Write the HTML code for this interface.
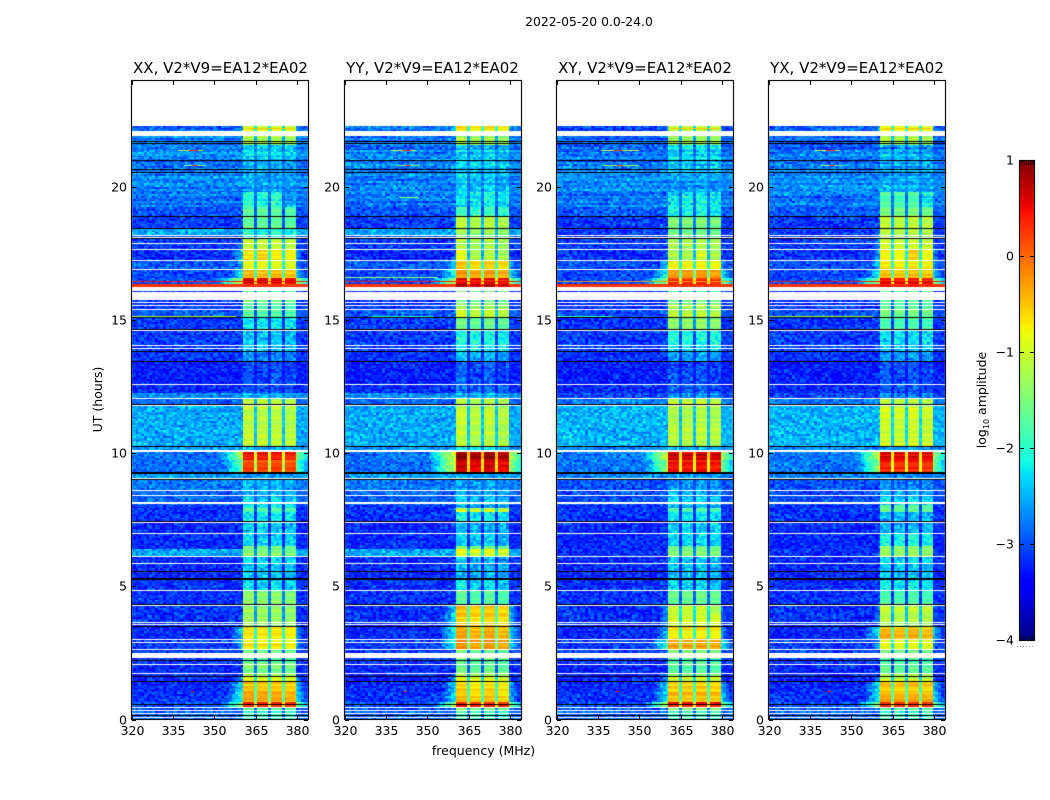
<!DOCTYPE html>
<html>
<head>
<meta charset="utf-8">
<title>2022-05-20 0.0-24.0</title>
<style>
html,body{margin:0;padding:0;background:#fff;}
#figure{position:relative;width:1050px;height:800px;overflow:hidden;background:#fff;font-family:"DejaVu Sans","Liberation Sans",sans-serif;}
canvas{position:absolute;display:block;}
#overlay{position:absolute;left:0;top:0;}
#overlay text{font-family:"DejaVu Sans","Liberation Sans",sans-serif;fill:#000;}
</style>
</head>
<body>
<div id="figure">
  <canvas id="hm0" width="178" height="640" style="left:131px;top:80px"></canvas>
  <canvas id="hm1" width="178" height="640" style="left:344px;top:80px"></canvas>
  <canvas id="hm2" width="178" height="640" style="left:556px;top:80px"></canvas>
  <canvas id="hm3" width="178" height="640" style="left:768px;top:80px"></canvas>
  <canvas id="cbar" width="16" height="481" style="left:1019px;top:160px"></canvas>
  <svg id="overlay" width="1050" height="800" xmlns="http://www.w3.org/2000/svg">
    <text x="589" y="26" font-size="12.4" text-anchor="middle">2022-05-20 0.0-24.0</text>
    <text x="220.5" y="73" font-size="15" text-anchor="middle">XX, V2*V9=EA12*EA02</text>
    <text x="432.5" y="73" font-size="15" text-anchor="middle">YY, V2*V9=EA12*EA02</text>
    <text x="645" y="73" font-size="15" text-anchor="middle">XY, V2*V9=EA12*EA02</text>
    <text x="857" y="73" font-size="15" text-anchor="middle">YX, V2*V9=EA12*EA02</text>
    <text x="483.5" y="755" font-size="12.5" text-anchor="middle">frequency (MHz)</text>
    <text transform="translate(102,399.5) rotate(-90)" font-size="12.5" text-anchor="middle">UT (hours)</text>
    <text transform="translate(986,400) rotate(-90)" font-size="12.5" text-anchor="middle">log<tspan font-size="8" dy="3">10</tspan><tspan dy="-3"> amplitude</tspan></text>
    <line x1="1017" y1="646.5" x2="1035" y2="646.5" stroke="#999" stroke-width="1" stroke-dasharray="1 2"></line>
    <rect x="1019.5" y="160.5" width="15" height="480" fill="none" stroke="#111" stroke-width="1.2"></rect>
    <g id="axes-layer"></g>
  </svg>
</div>
<script>
// ---- axis data ----
var freqTicks = [320, 335, 350, 365, 380];
var freqTickLabels = ["320", "335", "350", "365", "380"];
var hourTicks = [0, 5, 10, 15, 20];
var hourTickLabels = ["0", "5", "10", "15", "20"];
var colorbarTicks = [1, 0, -1, -2, -3, -4];
var colorbarTickLabels = ["1", "0", "\u22121", "\u22122", "\u22123", "\u22124"];

// ---- time segments (start hour, running down from the top of the data) ----
var segmentStart = [22.270,21.895,21.557,21.370,20.994,20.919,20.544,19.793,19.231,18.855,
  18.443,18.180,18.030,17.617,17.242,16.867,16.567,16.454,16.341,16.229,
  16.079,15.741,15.591,15.366,15.066,14.578,14.053,13.827,13.415,12.552,
  12.252,12.064,11.763,10.225,10.037,9.737,9.287,9.212,8.974,8.574,
  8.349,8.049,7.936,7.786,7.373,6.961,6.510,6.398,6.098,5.835,
  5.272,4.822,4.259,3.997,3.471,2.983,2.645,2.270,2.157,2.046,
  1.707,1.595,1.407,1.032,0.658,0.432,0.320];

// log10 amplitude outside the 360-380 MHz band
var offParallel = [-2.9,-2.75,-2.85,-2.7,-3,-2.75,-2.75,-2.8,-3,-3.1,
  -2.55,-3,-3.1,-3.2,-2.95,-3.05,-3,-3,0.3,-3.2,
  -3.2,-3.2,-3.1,-2.95,-3.1,-3.1,-3.1,-3.15,-3.25,-3.2,
  -2.7,-2.9,-2.55,-2.65,-2.85,-2.85,-2.85,-2.6,-2.8,-2.9,
  -2.9,-3.15,-3.15,-3.15,-3.2,-3.2,-3.2,-2.55,-3.2,-3.2,
  -3.15,-3.15,-3.15,-3.15,-3.2,-3.1,-3.1,-3.1,-3.15,-3.2,
  -3.2,-3.2,-3.2,-3.15,-3,-3,-2.9];
var offCross = [-3,-2.9,-2.95,-2.8,-3,-2.75,-2.7,-2.8,-2.95,-3.1,
  -3.1,-3.1,-3.1,-3.15,-3,-3.05,-3,-3,0.3,-3.2,
  -3.2,-3.2,-3.1,-3,-3.15,-3.1,-3.1,-3.15,-3.25,-3.2,
  -3.05,-2.75,-2.5,-2.7,-2.8,-2.8,-2.8,-2.75,-3,-3,
  -3,-3.15,-3.15,-3.15,-3.2,-3.2,-3.2,-3.15,-3.2,-3.2,
  -3.15,-3.15,-3.15,-3.15,-3.2,-3.1,-3.1,-3.1,-3.15,-3.2,
  -3.2,-3.2,-3.2,-3.15,-3,-3,-2.9];

// log10 amplitude inside the band, one series per correlation
var inBandXX = [-0.9,-1.2,-2.4,-2.35,-2.5,-2.5,-2.6,-2,-1.75,-1.65,
  -2.05,-1.9,-1.1,-0.7,-0.8,-0.5,0.55,0.6,0.3,-1.5,
  -1.6,-1.6,-1.8,-1.7,-2.2,-2.4,-2.4,-2.7,-3,-3,
  -2.5,-1.2,-1.1,-2.4,0.45,0.15,0,-2.6,-2.5,-2.5,
  -2.3,-2.15,-1.7,-2.2,-2.4,-2.3,-1.6,-1.4,-2.3,-2.4,
  -2.3,-1.45,-1.3,-1.3,-0.7,-0.7,-1.6,-1.9,-1.5,-1.5,
  -1.2,-0.8,-0.5,-0.35,0.35,-1.6,-1.9];
var inBandYY = [-0.75,-1.2,-2.4,-2.35,-2.5,-2.4,-2.4,-2.15,-1.9,-1.15,
  -1.35,-1.5,-1.2,-1.2,-0.6,-0.3,0.5,0.5,0.75,-1.5,
  -1.6,-1.6,-1.2,-1.05,-1.6,-2.1,-2.2,-2.5,-2.95,-2.85,
  -2.45,-1.1,-1.1,-2.3,0.85,0.65,0,-2.5,-2.6,-2.5,
  -2.3,-2.6,-1,-2.2,-2.5,-2.4,-1.5,-0.9,-2.5,-2.5,
  -2.25,-1.7,-0.6,-0.55,-0.35,-0.3,-1.5,-1.7,-1.5,-1.6,
  -1.3,-0.9,-0.6,-0.5,0.35,-1.5,-1.9];
var inBandXY = [-1,-1.3,-2.3,-2.25,-2.5,-2.4,-2.6,-2.15,-2.1,-1.45,
  -1.55,-1.6,-1.2,-1.2,-0.75,-0.3,0.35,0.4,0.3,-1.5,
  -1.6,-1.6,-1.2,-1.1,-1.35,-2.1,-2.3,-2.6,-3,-2.9,
  -2.6,-1.1,-1.15,-2.5,0.7,0.4,0,-2.6,-2.6,-2.5,
  -2.3,-2.5,-1.8,-2.3,-2.4,-2.3,-1.5,-1.45,-2.4,-2.4,
  -2.35,-1.6,-0.95,-1,-0.7,-0.25,-1.5,-1.9,-1.7,-1.7,
  -1.3,-1,-0.6,-0.45,0.4,-1.5,-1.9];
var inBandYX = [-0.85,-1.2,-2.6,-2.5,-2.6,-2.5,-2.55,-1.8,-1.5,-1.15,
  -1.1,-1.3,-1,-0.85,-0.7,-0.45,0.4,0.45,0.4,-1.5,
  -1.6,-1.6,-1.7,-1.6,-1.8,-2.3,-2.4,-2.6,-3,-2.95,
  -2.7,-1.1,-1,-2.6,0.6,0.35,0,-2.7,-2.7,-2.5,
  -2.3,-1.8,-1.6,-2.5,-2.5,-2.1,-1.4,-1.3,-2.3,-2.4,
  -2.2,-1.8,-1.1,-1.15,-0.45,-0.9,-1.5,-1.9,-1.7,-1.7,
  -1.3,-1,-0.5,-0.4,0.3,-1.5,-1.9];
var inBandLevels = [inBandXX, inBandYY, inBandXY, inBandYX];

// sub-band layout (channel centres in MHz) and per-panel sub-band offsets
var subBandFirst = [361, 366, 371, 376];
var subBandLast = [364, 369, 374, 379];
var subBandGainXX = [0.03, 0, 0, -0.06];
var subBandGainYY = [0.06, -0.05, 0.03, -0.08];
var subBandGainXY = [0, 0, 0.02, -0.03];
var subBandGainYX = [0.03, -0.02, 0.02, -0.04];
var subBandGains = [subBandGainXX, subBandGainYY, subBandGainXY, subBandGainYX];

// individual sub-bands that differ from the rest of their segment
var exceptionPanel = [0, 3, 2, 1, 2, 0, 1, 2, 3];
var exceptionSegment = [7, 7, 7, 7, 52, 13, 13, 13, 13];
var exceptionSubBand = [3, 3, 0, 0, 3, 1, 0, 2, 2];
var exceptionLevel = [-2.6, -2.2, -2.3, -2.3, -1.2, -0.55, -0.9, -0.95, -0.6];

// flagged time ranges (from hour, to hour)
var blankFrom = [22.082,18.180,18.105,17.880,17.655,17.242,16.904,16.229,16.041,15.666,
  15.553,15.403,14.615,14.053,13.940,12.589,12.064,11.801,10.112,9.062,
  8.611,8.424,8.161,7.411,6.998,6.135,5.872,4.859,4.297,3.658,
  3.583,3.020,2.908,2.645,2.495,2.083,1.745,0.470,0.358,0.244,0.094];
var blankTo = [21.895,18.143,18.068,17.842,17.617,17.205,16.867,16.079,15.741,15.629,
  15.516,15.366,14.578,14.015,13.902,12.552,12.026,11.763,10.037,9.024,
  8.574,8.387,8.086,7.373,6.961,6.098,5.835,4.822,4.259,3.620,
  3.546,2.983,2.871,2.608,2.308,2.046,1.707,0.432,0.320,0.207,0.056];
var darkFrom = [21.707,21.632,20.994,20.657,20.544,18.893,18.443,18.068,15.103,14.653,
  13.827,13.452,11.838,10.263,9.287,9.009,7.449,5.572,5.309,4.334,
  3.508,2.233,1.632,1.444,0.582,0.170];
var darkTo = [21.670,21.595,20.957,20.619,20.506,18.855,18.405,18.030,15.066,14.615,
  13.790,13.415,11.801,10.225,9.212,8.974,7.411,5.535,5.234,4.297,
  3.471,2.195,1.595,1.407,0.545,0.131];

// narrow-band interference streaks
var streakPanel = [0,1,2,3,0,1,2,3,0,1,2,3,0,1,2,3,0,1,2,3,1,0,1,2,3,0,2,3,1,0,1,2,3];
var streakHour = [21.37,21.37,21.37,21.37,21.37,21.37,21.37,21.37,20.825,20.825,20.825,20.825,20.825,20.825,20.825,20.825,15.14,15.14,15.14,15.14,16.60,16.454,16.454,16.454,16.454,22.19,22.19,22.19,19.60,1.08,1.08,1.08,1.08];
var streakFrom = [337,337,336,337,341,341,341,341,339,339,337,339,342,342,342,342,320,330,320,320,320,320,320,320,320,362,362,362,340,341.5,341.5,341.5,341.5];
var streakTo = [346,346,350,346,344,344,344,344,347,347,350,347,344,344,344,344,358,352,340,358,354,384,384,384,384,379,379,379,347,342.5,342.5,342.5,342.5];
var streakLevel = [-1.2,-1.2,-1.1,-1.2,0.3,0.3,0.3,0.3,-1.5,-1.5,-1.3,-1.6,0.2,0.2,0.2,0.2,-1.2,-2,-1.9,-1.3,-1.3,0.45,0.45,-0.2,0.45,-0.5,-0.5,-0.5,-1.4,0.4,0.4,0.4,0.4];

// hand-read speckle pattern (relative noise of the off-source pixels)
var speckle = [0.6,-0.8,0.1,0.9,-0.4,-1,0.5,0.2,-0.7,1,-0.2,0.7,-0.9,0.3,-0.5,0.8,-0.1,-0.6,1,0.4,
  -0.3,-1,0.6,0.1,-0.8,0.9,-0.4,0.2,0.7,-0.6,-0.9,0.5,0,1,-0.5,-0.2,0.8,-0.7,0.3,-1,
  0.6,-0.1,0.9,-0.6,0.4,-0.3,0.7,-0.9,0.2,1,-0.4,-0.7,0.5];
var rowStreak = [0.2,-0.3,0.5,-0.1,-0.5,0.3,0.1,-0.4,0.6,-0.2,0,0.4,-0.6,0.2,-0.1,0.3,-0.3,0.5,-0.5];

var TOP_HOUR = 24, LEVEL_MIN = -4, LEVEL_MAX = 1;
var CHANNEL_FIRST = 320, CHANNEL_LAST = 384, ROW_HOURS = 0.07;
var panelOrigin = [131, 344, 556, 768];

function xScale(freq) { return 0.5 + (freq - 320) * 2.76; }
function yScale(hour) { return 639.5 - hour * 26.65; }
function levelToUnit(v) { return Math.max(0, Math.min(1, (v - LEVEL_MIN) / (LEVEL_MAX - LEVEL_MIN))); }
function ramp(t, pts) {
  for (var i = 1; i < pts.length; i++) {
    if (t <= pts[i][0]) {
      var a = pts[i - 1], b = pts[i];
      return a[1] + (b[1] - a[1]) * (t - a[0]) / (b[0] - a[0]);
    }
  }
  return pts[pts.length - 1][1];
}
function jet(v) {
  var t = levelToUnit(v);
  var r = ramp(t, [[0, 0], [0.35, 0], [0.66, 1], [0.89, 1], [1, 0.5]]);
  var g = ramp(t, [[0, 0], [0.125, 0], [0.375, 1], [0.64, 1], [0.91, 0], [1, 0]]);
  var b = ramp(t, [[0, 0.5], [0.11, 1], [0.34, 1], [0.65, 0], [1, 0]]);
  return "rgb(" + Math.round(r * 255) + "," + Math.round(g * 255) + "," + Math.round(b * 255) + ")";
}
function subBandOf(ch) {
  for (var k = 0; k < subBandFirst.length; k++) {
    if (ch >= subBandFirst[k] && ch <= subBandLast[k]) return k;
  }
  return -1;
}
function subBandLevel(panel, seg, k, inL) {
  for (var e = 0; e < exceptionPanel.length; e++) {
    if (exceptionPanel[e] === panel && exceptionSegment[e] === seg && exceptionSubBand[e] === k) return exceptionLevel[e];
  }
  return inL + subBandGains[panel][k];
}
function cellLevel(panel, seg, ch, row) {
  var off = (panel < 2 ? offParallel : offCross)[seg];
  var inL = inBandLevels[panel][seg];
  var k = subBandOf(ch);
  var base, amp;
  var n = speckle.length;
  var noise = 0.65 * speckle[(ch * ch * 7 + row * 29 + panel * 5) % n] + 0.65 * speckle[(ch * 19 + row * row * 11 + panel * 3) % n];
  var streak = rowStreak[(row * 7 + panel) % rowStreak.length];
  var rowTerm = seg < 8 ? streak * 0.25 : 0;
  if (k >= 0) {
    base = subBandLevel(panel, seg, k, inL);
    amp = base < -1.9 ? 0.3 : 0.05;
    if (base >= -1.9) rowTerm = streak * 0.25;
  } else if (ch >= subBandFirst[0] && ch <= subBandLast[3]) {
    base = Math.max(off, inL - 1.3);
    amp = 0.12;
  } else if (ch < subBandFirst[0]) {
    base = Math.max(off, inL - 1.7 - 0.2 * (subBandFirst[0] - 1 - ch));
    amp = 0.3;
  } else {
    base = Math.max(off, inL - 1.9 - 0.25 * (ch - subBandLast[3] - 1));
    amp = 0.22;
  }
  if (off > -1) { amp = 0.03; rowTerm = 0; }
  return base + noise * amp + rowTerm;
}
function fillBand(ctx, color, fromHour, toHour) {
  var y0 = Math.round(yScale(fromHour)), y1 = Math.round(yScale(toHour));
  ctx.fillStyle = color;
  ctx.fillRect(0, y0, 178, Math.max(1, y1 - y0));
}
function drawPanel(panel) {
  var ctx = document.getElementById("hm" + panel).getContext("2d");
  ctx.fillStyle = "#fff";
  ctx.fillRect(0, 0, 178, 640);
  var row = 0;
  for (var seg = 0; seg < segmentStart.length; seg++) {
    var segEnd = seg + 1 < segmentStart.length ? segmentStart[seg + 1] : 0;
    for (var h = segmentStart[seg]; h > segEnd + 1e-6; h -= ROW_HOURS) {
      var low = Math.max(segEnd, h - ROW_HOURS);
      var y0 = Math.round(yScale(h)), y1 = Math.round(yScale(low));
      row++;
      if (y1 <= y0) continue;
      for (var ch = CHANNEL_FIRST; ch <= CHANNEL_LAST; ch++) {
        var x0 = Math.max(1, Math.round(xScale(ch - 0.5)));
        var x1 = Math.min(177, Math.round(xScale(ch + 0.5)));
        ctx.fillStyle = jet(cellLevel(panel, seg, ch, row));
        ctx.fillRect(x0, y0, x1 - x0, y1 - y0);
      }
    }
  }
  for (var s = 0; s < streakPanel.length; s++) {
    if (streakPanel[s] !== panel) continue;
    var sx0 = Math.max(1, Math.round(xScale(streakFrom[s])));
    var sx1 = Math.min(177, Math.round(xScale(streakTo[s])));
    ctx.fillStyle = jet(streakLevel[s]);
    ctx.fillRect(sx0, Math.round(yScale(streakHour[s])), sx1 - sx0, 1);
  }
  for (var b = 0; b < blankFrom.length; b++) fillBand(ctx, "#fff", blankFrom[b], blankTo[b]);
  for (var d = 0; d < darkFrom.length; d++) fillBand(ctx, "#000", darkFrom[d], darkTo[d]);
}
function drawColorbar() {
  var ctx = document.getElementById("cbar").getContext("2d");
  for (var py = 0; py < 481; py++) {
    ctx.fillStyle = jet(LEVEL_MAX - (py / 480) * (LEVEL_MAX - LEVEL_MIN));
    ctx.fillRect(0, py, 16, 1);
  }
}
var layer = document.getElementById("axes-layer");
var NS = "http://www.w3.org/2000/svg";
function addLine(x1, y1, x2, y2, width) {
  var el = document.createElementNS(NS, "line");
  el.setAttribute("x1", x1);
  el.setAttribute("y1", y1);
  el.setAttribute("x2", x2);
  el.setAttribute("y2", y2);
  el.setAttribute("stroke", "#000");
  el.setAttribute("stroke-width", width);
  
  
  layer.appendChild(el);
}
function addLabel(x, y, anchor, str) {
  var el = document.createElementNS(NS, "text");
  el.setAttribute("x", x);
  el.setAttribute("y", y);
  el.setAttribute("text-anchor", anchor);
  el.setAttribute("font-size", "12.5");
  el.textContent = str;
  
  
  layer.appendChild(el);
}
function drawAxes(panel) {
  var left = panelOrigin[panel];
  var frame = document.createElementNS(NS, "rect");
  frame.setAttribute("x", left + 0.5);
  frame.setAttribute("y", 80.5);
  frame.setAttribute("width", 177);
  frame.setAttribute("height", 639);
  frame.setAttribute("fill", "none");
  frame.setAttribute("stroke", "#111");
  frame.setAttribute("stroke-width", "1.2");
  
  
  layer.appendChild(frame);
  for (var i = 0; i < freqTicks.length; i++) {
    var x = Math.round(left + xScale(freqTicks[i])) + 0.5;
    addLine(x, 81, x, 85, 1);
    addLine(x, 715, x, 719, 1);
    addLabel(x, 735, "middle", freqTickLabels[i]);
  }
  for (var j = 0; j < hourTicks.length; j++) {
    var y = Math.round(80 + yScale(hourTicks[j])) + 0.5;
    addLine(left + 1, y, left + 5, y, 1);
    addLine(left + 173, y, left + 177, y, 1);
    addLabel(left - 4, y + 4, "end", hourTickLabels[j]);
  }
}
function cbarY(v) { return 160.5 + (LEVEL_MAX - v) / (LEVEL_MAX - LEVEL_MIN) * 480; }
function drawColorbarAxis() {
  for (var i = 0; i < colorbarTicks.length; i++) {
    var y = cbarY(colorbarTicks[i]);
    addLine(1020, y, 1024, y, 1);
    addLine(1030, y, 1034, y, 1);
    addLabel(1014, y + 4, "end", colorbarTickLabels[i]);
  }
  for (var k = 1021.5; k < 1034; k += 2.4) {
    addLine(k, 161, k, 165, 0.7);
    addLine(k, 636, k, 640, 0.7);
  }
}
for (var p = 0; p < 4; p++) {
  drawPanel(p);
  drawAxes(p);
}
drawColorbar();
drawColorbarAxis();
</script>
</body>
</html>
